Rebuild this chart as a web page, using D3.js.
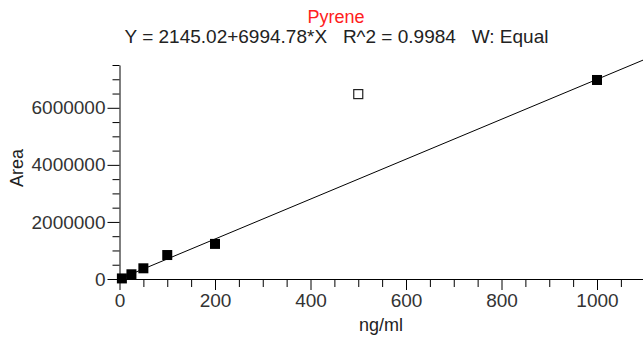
<!DOCTYPE html>
<html>
<head>
<meta charset="utf-8">
<script src="https://cdn.jsdelivr.net/npm/d3@7"></script>
<style>
  body { margin: 0; background: #fff; }
  svg { display: block; font-family: "Liberation Sans", Arial, sans-serif; }
</style>
</head>
<body>
<div id="chart"></div>
<script>
// calibration data
const compound = "Pyrene";
const conc = [5, 25, 50, 100, 200, 1000];
const area = [20000, 165000, 375000, 840000, 1230000, 6975000];
const excludedConc = [500];
const excludedArea = [6480000];
const intercept = 2145.02;
const slope = 6994.78;
const r2 = 0.9984;
const weighting = "Equal";
const xMajorTicks = [0, 200, 400, 600, 800, 1000];
const yMajorTicks = [0, 2000000, 4000000, 6000000];

const W = 643, H = 340;
const x = d3.scaleLinear([0, 1100], [119.5, 644.75]);
const y = d3.scaleLinear([0, 7500000], [279, 65]);

const svg = d3.select("#chart").append("svg")
    .attr("width", W)
    .attr("height", H);

// titles
svg.append("text")
    .attr("x", 336).attr("y", 23)
    .attr("text-anchor", "middle")
    .attr("fill", "#ff2020")
    .attr("font-size", 18)
    .text(compound);
svg.append("text")
    .attr("x", 336.5).attr("y", 43)
    .attr("text-anchor", "middle")
    .attr("fill", "#222")
    .attr("font-size", 19)
    .attr("xml:space", "preserve")
    .style("white-space", "pre")
    .text(`Y = ${intercept}+${slope}*X   R^2 = ${r2}   W: ${weighting}`);

// x axis: minor ticks, then major ticks with labels
const xAxis = svg.append("g").attr("transform", `translate(0,${y(0)})`);
xAxis.call(d3.axisBottom(x).tickValues(d3.range(50, 1100, 50).filter(d => d % 200)).tickSize(8).tickFormat(""));
xAxis.call(g => g.select(".domain").remove());
const xMaj = svg.append("g").attr("transform", `translate(0,${y(0)})`)
    .call(d3.axisBottom(x).tickValues(xMajorTicks).tickSize(11).tickSizeOuter(0).tickPadding(4).tickFormat(d3.format("d")));
xMaj.select(".domain").attr("stroke", "#000");
xMaj.selectAll("text").attr("font-size", 19).attr("fill", "#333").attr("font-family", "Liberation Sans, Arial, sans-serif");

// y axis
const yAxis = svg.append("g").attr("transform", `translate(${x(0)},0)`);
yAxis.call(d3.axisLeft(y).tickValues(d3.range(500000, 7600000, 500000).filter(d => d % 2000000)).tickSize(7).tickFormat(""));
yAxis.call(g => g.select(".domain").remove());
const yMaj = svg.append("g").attr("transform", `translate(${x(0)},0)`)
    .call(d3.axisLeft(y).tickValues(yMajorTicks).tickSize(12).tickSizeOuter(0).tickPadding(2).tickFormat(d3.format("d")));
yMaj.selectAll("text").attr("font-size", 19).attr("fill", "#333").attr("font-family", "Liberation Sans, Arial, sans-serif");

// axis titles
svg.append("text")
    .attr("x", 381).attr("y", 331)
    .attr("text-anchor", "middle")
    .attr("fill", "#222")
    .attr("font-size", 18)
    .text("ng/ml");
svg.append("text")
    .attr("transform", "translate(23,168) rotate(-90)")
    .attr("text-anchor", "middle")
    .attr("fill", "#222")
    .attr("font-size", 18)
    .text("Area");

// fitted line
svg.append("path")
    .datum(x.domain())
    .attr("fill", "none")
    .attr("stroke", "#000")
    .attr("stroke-width", 1)
    .attr("d", d3.line().x(d => x(d)).y(d => y(intercept + slope * d)));

// points
const sq = 10;
svg.append("g").selectAll("rect")
    .data(conc)
    .join("rect")
    .attr("x", (d, i) => x(d) - sq / 2)
    .attr("y", (d, i) => y(area[i]) - sq / 2)
    .attr("width", sq).attr("height", sq)
    .attr("fill", "#000");
svg.append("g").selectAll("rect")
    .data(excludedConc)
    .join("rect")
    .attr("x", (d, i) => x(d) - 4.5)
    .attr("y", (d, i) => y(excludedArea[i]) - 4.5)
    .attr("width", 9).attr("height", 9)
    .attr("fill", "#fff")
    .attr("stroke", "#222")
    .attr("stroke-width", 1.2);
</script>
</body>
</html>
